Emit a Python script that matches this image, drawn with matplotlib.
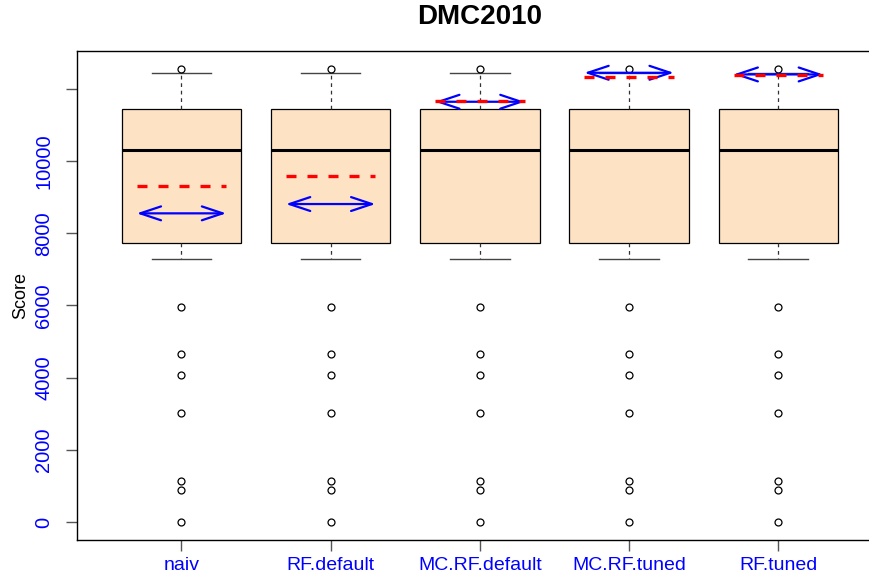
import matplotlib
matplotlib.use("Agg")
import matplotlib.pyplot as plt

plt.rcParams['font.family'] = ['Liberation Sans', 'DejaVu Sans']

# data
groups = ['naiv', 'RF.default', 'MC.RF.default', 'MC.RF.tuned', 'RF.tuned']
q1, med, q3 = 7720, 10300, 11430
whislo, whishi = 7295, 12446
outliers = [12548, 5947, 4654, 4072, 3011, 1136, 886, 0]
mean_line = [9307, 9576, 11662, 12319, 12385]   # red dashed
arrow_line = [8551, 8809, 11643, 12446, 12400]  # blue arrows
yticks = [0, 2000, 4000, 6000, 8000, 10000, 12000]
ytick_labels = ['0', '2000', '4000', '6000', '8000', '10000', '']

fig = plt.figure(figsize=(8.69, 5.76), dpi=100)
ax = fig.add_axes([0.0886, 0.0625, 0.9272, 0.849])

stats = [dict(med=med, q1=q1, q3=q3, whislo=whislo, whishi=whishi,
              fliers=outliers, label=g) for g in groups]
pos = list(range(1, len(groups) + 1))
ax.bxp(stats, positions=pos, widths=0.8, patch_artist=True,
       boxprops=dict(facecolor='#fde3c4', edgecolor='black', linewidth=0.9),
       medianprops=dict(color='black', linewidth=2.2),
       whiskerprops=dict(color='#333333', linewidth=0.9, linestyle=(0, (3, 3))),
       capprops=dict(color='#444444', linewidth=1.0),
       capwidths=0.4,
       flierprops=dict(marker='o', markerfacecolor='none', markeredgecolor='black',
                       markersize=5, markeredgewidth=0.9))

for p, m, a in zip(pos, mean_line, arrow_line):
    ax.annotate('', xy=(p + 0.3, a), xytext=(p - 0.3, a),
                arrowprops=dict(arrowstyle='<->,head_length=15,head_width=5',
                                mutation_scale=1, color='blue', lw=1.6,
                                shrinkA=0, shrinkB=0), zorder=4)
    ax.plot([p - 0.3, p + 0.3], [m, m], color='red', lw=2.4,
            linestyle=(0, (3, 3.3)), dash_capstyle='butt', zorder=5)

ax.set_xlim(0.3, 5.7)
ax.set_ylim(-500, 13050)
ax.set_xticks(pos)
ax.set_xticklabels(groups, color='blue', fontsize=14)
ax.set_yticks(yticks)
ax.set_yticklabels(ytick_labels, color='blue', fontsize=14.5, rotation=90, va='center')
ax.tick_params(axis='both', length=8, color='#555555', width=1)
ax.tick_params(axis='y', pad=9)
ax.tick_params(axis='x', pad=4)
for s in ax.spines.values():
    s.set_linewidth(1.0)
    s.set_color('black')
ax.spines['right'].set_visible(False)

ax.set_ylabel('Score', fontsize=13, labelpad=4)
fig.text(480 / 869, 1 - 17 / 576, 'DMC2010', fontsize=20, fontweight='bold',
         ha='center', va='center')

fig.savefig('out.png', dpi=100)
